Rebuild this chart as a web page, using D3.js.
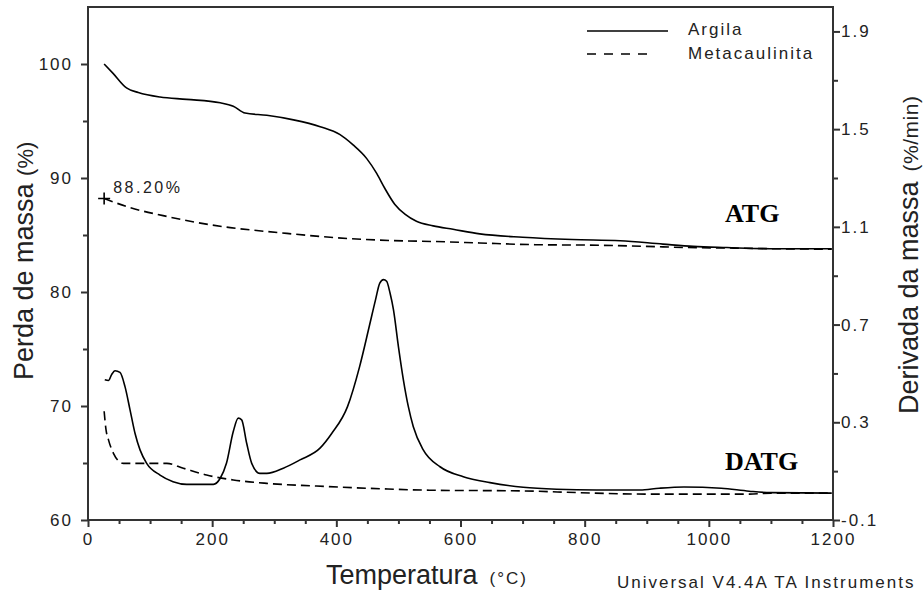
<!DOCTYPE html>
<html>
<head>
<meta charset="utf-8">
<script src="https://cdn.jsdelivr.net/npm/d3@7"></script>
<style>
  body { margin: 0; background: #fff; }
  svg { display: block; }
  .tick text { font-family: "Liberation Sans", Arial, sans-serif; font-size: 17px; letter-spacing: 2px; fill: #222; }
  .tick line { stroke: #333; stroke-width: 2; }
</style>
</head>
<body>
<figure id="chart" style="margin:0"></figure>
<script>
// Temperature ticks and axis tick labels
const xTicks = [0, 200, 400, 600, 800, 1000, 1200];
const xMinor = [50, 100, 150, 250, 300, 350, 450, 500, 550, 650, 700, 750, 850, 900, 950, 1050, 1100, 1150];
const leftTicks = [60, 70, 80, 90, 100];
const leftMinor = [65, 75, 85, 95];
const rightTicks = [-0.1, 0.3, 0.7, 1.1, 1.5, 1.9];
const rightMinor = [0.1, 0.5, 0.9, 1.3, 1.7];

const seriesNames = ["Argila", "Metacaulinita"];

// ATG curves: [temperature °C, mass %]
const argilaATG = [[26,100.0],[40,99.2],[62,97.9],[81,97.5],[116,97.1],[159,96.9],[213,96.6],[234,96.3],[253,95.7],[288,95.5],[331,95.1],[374,94.5],[406,93.8],[427,92.9],[449,91.7],[465,90.4],[478,89.1],[494,87.7],[511,86.8],[529,86.2],[556,85.8],[588,85.5],[631,85.1],[700,84.8],[780,84.6],[857,84.5],[926,84.2],[975,84.0],[1029,83.9],[1099,83.8],[1198,83.8]];
const metaATG = [[26,88.2],[68,87.4],[121,86.7],[175,86.1],[229,85.65],[309,85.2],[390,84.8],[470,84.55],[578,84.4],[631,84.3],[720,84.15],[825,84.1],[900,84.0],[965,83.9],[1040,83.85],[1100,83.8],[1198,83.75]];

// DATG curves: [temperature °C, %/min]
const argilaDTG = [[27,0.474],[33,0.471],[38,0.495],[43.5,0.511],[51.5,0.504],[59.6,0.446],[67.7,0.351],[75.7,0.255],[83.8,0.187],[94.5,0.132],[116,0.084],[137,0.057],[159,0.046],[202,0.046],[213,0.071],[223,0.132],[234,0.262],[242,0.317],[247.5,0.31],[255.6,0.214],[263.7,0.132],[277,0.091],[288,0.091],[314.6,0.112],[341.5,0.146],[373.7,0.194],[392.8,0.255],[418,0.364],[437.5,0.528],[453,0.692],[463,0.80],[470,0.87],[476,0.884],[481,0.877],[486.5,0.829],[492,0.761],[500,0.61],[508,0.474],[516,0.364],[524,0.282],[540,0.187],[567,0.118],[604.5,0.077],[647.5,0.053],[701,0.034],[755,0.026],[819,0.023],[889,0.023],[920,0.03],[960,0.035],[1020,0.03],[1065,0.018],[1100,0.012],[1198,0.01]];
const metaDTG = [[26,0.345],[29,0.27],[33,0.228],[41,0.173],[50,0.14],[57,0.132],[84,0.132],[127,0.132],[153.5,0.112],[191,0.084],[234,0.064],[288,0.05],[368,0.039],[470,0.028],[550,0.022],[700,0.019],[790,0.012],[900,0.006],[1065,0.006],[1100,0.01],[1198,0.01]];

const startMark = [26, 88.2];
const startLabel = "88.20%";

const width = 923, height = 596;
const plot = {left: 88, right: 833, top: 7, bottom: 520};

const svg = d3.select("#chart").append("svg")
  .attr("width", width)
  .attr("height", height);

const x = d3.scaleLinear().domain([0, 1200]).range([plot.left, plot.right]);
const yL = d3.scaleLinear().domain([60, 105]).range([plot.bottom, plot.top]);
const yR = d3.scaleLinear().domain([-0.1, 2.0]).range([plot.bottom, plot.top]);

// axes (major + minor ticks)
function addAxis(axis, tx, ty) {
  const g = svg.append("g").attr("transform", "translate(" + tx + "," + ty + ")").call(axis);
  g.select(".domain").remove();
  return g;
}
addAxis(d3.axisBottom(x).tickValues(xTicks).tickSize(7).tickPadding(6).tickFormat(d3.format("d")), 0, plot.bottom);
addAxis(d3.axisBottom(x).tickValues(xMinor).tickSize(4).tickFormat(""), 0, plot.bottom);
addAxis(d3.axisLeft(yL).tickValues(leftTicks).tickSize(7).tickPadding(8).tickFormat(d3.format("d")), plot.left, 0);
addAxis(d3.axisLeft(yL).tickValues(leftMinor).tickSize(5).tickFormat(""), plot.left, 0);
addAxis(d3.axisRight(yR).tickValues(rightTicks).tickSize(7).tickPadding(1).tickFormat(d => d.toFixed(1)), plot.right, 0);
addAxis(d3.axisRight(yR).tickValues(rightMinor).tickSize(5).tickFormat(""), plot.right, 0);

// frame
svg.append("rect")
  .attr("x", plot.left).attr("y", plot.top)
  .attr("width", plot.right - plot.left).attr("height", plot.bottom - plot.top)
  .attr("fill", "none").attr("stroke", "#333").attr("stroke-width", 2);

// curves
const lineL = d3.line().x(d => x(d[0])).y(d => yL(d[1])).curve(d3.curveMonotoneX);
const lineR = d3.line().x(d => x(d[0])).y(d => yR(d[1])).curve(d3.curveMonotoneX);

function drawCurve(data, gen, dashed) {
  svg.append("path")
    .datum(data)
    .attr("d", gen)
    .attr("fill", "none")
    .attr("stroke", "#000")
    .attr("stroke-width", 1.6)
    .attr("stroke-dasharray", dashed ? "9,5" : null);
}
drawCurve(argilaATG, lineL, false);
drawCurve(metaATG, lineL, true);
drawCurve(argilaDTG, lineR, false);
drawCurve(metaDTG, lineR, true);

// start marker
const mx = x(startMark[0]), my = yL(startMark[1]);
svg.append("path")
  .attr("d", "M" + (mx - 6) + "," + my + "H" + (mx + 6) + "M" + mx + "," + (my - 6) + "V" + (my + 6))
  .attr("stroke", "#000").attr("stroke-width", 1.6);
svg.append("text")
  .attr("x", mx + 9).attr("y", my - 6)
  .style("font-family", "'Liberation Sans', Arial, sans-serif")
  .style("font-size", "16px").style("letter-spacing", "2.5px").attr("fill", "#222")
  .text(startLabel);

// legend
const legend = svg.append("g");
seriesNames.forEach((name, i) => {
  const ly = 31 + i * 23;
  legend.append("line")
    .attr("x1", 587).attr("x2", i === 0 ? 668 : 650)
    .attr("y1", ly).attr("y2", ly)
    .attr("stroke", "#000").attr("stroke-width", 1.6)
    .attr("stroke-dasharray", i === 0 ? null : "9,8");
  legend.append("text")
    .attr("x", 688).attr("y", ly + 4 + i)
    .style("font-family", "'Liberation Sans', Arial, sans-serif")
    .style("font-size", "17px").style("letter-spacing", "2px").attr("fill", "#222")
    .text(name);
});

// curve group labels
const serif = "'Liberation Serif', 'Times New Roman', serif";
svg.append("text").attr("x", 725).attr("y", 222)
  .style("font-family", serif).style("font-size", "26px").style("font-weight", "bold")
  .text("ATG");
svg.append("text").attr("x", 725).attr("y", 470)
  .style("font-family", serif).style("font-size", "26px").style("font-weight", "bold")
  .text("DATG");

// axis titles
const sans = "'Liberation Sans', Arial, sans-serif";
const xt = svg.append("text").attr("x", 326).attr("y", 584)
  .style("font-family", sans).attr("fill", "#222");
xt.append("tspan").style("font-size", "27px").text("Temperatura");
xt.append("tspan").attr("dx", 12).style("font-size", "17px").style("letter-spacing", "2px").text("(°C)");

svg.append("text").attr("x", 617).attr("y", 588)
  .style("font-family", sans).style("font-size", "17px").style("letter-spacing", "2px")
  .attr("fill", "#222")
  .text("Universal V4.4A TA Instruments");

const ylt = svg.append("text")
  .attr("transform", "translate(33,380) rotate(-90)")
  .style("font-family", sans).attr("fill", "#222");
ylt.append("tspan").style("font-size", "27px").text("Perda de massa ");
ylt.append("tspan").style("font-size", "22px").text("(%)");

const yrt = svg.append("text")
  .attr("transform", "translate(918,414) rotate(-90)")
  .style("font-family", sans).attr("fill", "#222");
yrt.append("tspan").style("font-size", "27px").text("Derivada da massa");
yrt.append("tspan").attr("dx", 10).style("font-size", "21px").style("letter-spacing", "0.5px").text("(%/min)");
</script>
</body>
</html>
